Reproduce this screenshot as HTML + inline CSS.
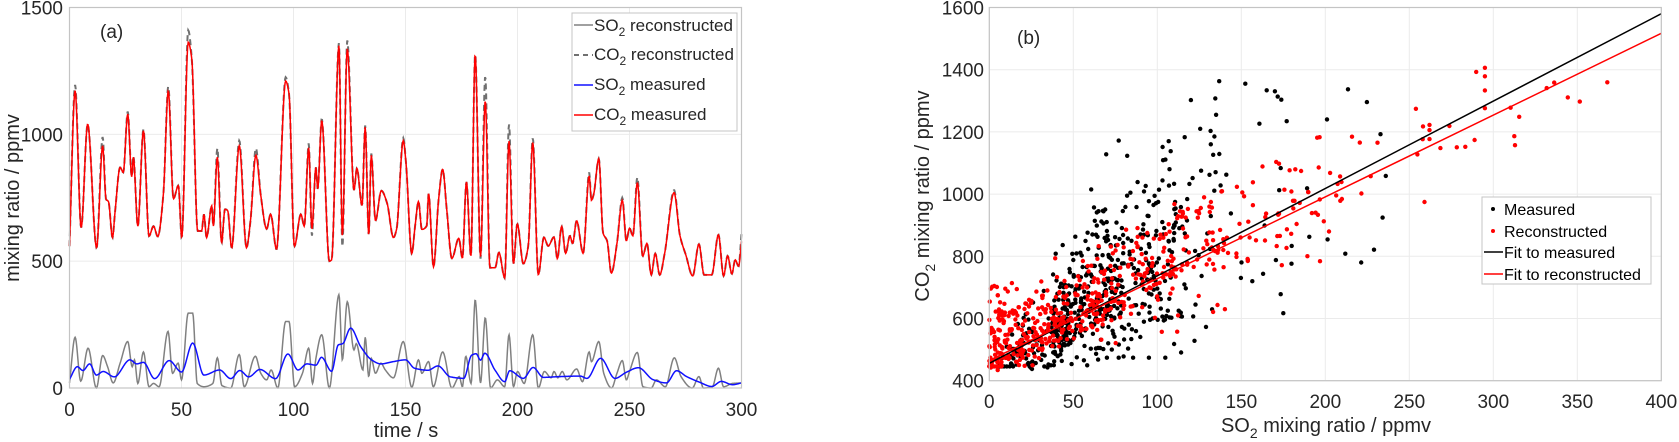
<!DOCTYPE html>
<html><head><meta charset="utf-8"><style>
html,body{margin:0;padding:0;background:#fff;}
svg{display:block;font-family:"Liberation Sans",Arial,sans-serif;}
</style></head><body>
<svg id="fig" width="1679" height="442" viewBox="0 0 1679 442" xmlns="http://www.w3.org/2000/svg">
<g id="pa"></g>
<g id="pb"></g>
</svg>
<script>
// ---------- Panel (a) data: keypoints (time s, value ppmv) ----------
const co2T = [0,2.5,5.2,8.1,12.1,14.8,16.3,17.4,19.2,20.3,22.6,24,26,27.8,28.5,30.5,33,35.5,37.5,39.4,41.9,44.1,46.4,48.6,50.1,53,54.6,57.2,59,60,61.2,63.5,64.2,66,67.9,69.4,70.6,72.4,75.8,79,80.8,83.2,85.4,88,89.8,92.4,96.5,98,100.4,103.3,104.8,106.8,108.2,110,110.8,112.6,116,117,120.3,121.8,124,127,128.3,130.6,132,133.6,134.7,136.6,139.2,141.8,144.6,146,149,150.2,152.8,154.3,155.8,157.3,159.5,160.3,162.5,164.8,166.6,168.4,170.7,173.8,175.4,177.2,179.2,181.1,183.5,185.6,187.7,190,191.7,194.3,196.2,198.2,199.9,202.6,204.8,206.8,209.3,211.8,213.7,216.3,217.8,219.7,221.5,223.4,224.6,226.4,229.3,232,233,234,236.3,238.2,240,241.9,244.4,246.8,248.6,250,251.5,253.5,255.9,257.8,259.7,261.5,263.5,265.7,269.9,272.5,275.2,278.2,281,283.3,286.7,289.7,292,293.8,295.7,297.2,298.7,300];
const co2Meas = [559,1172,632,1040,553,955,744,735,593,691,870,850,1080,832,910,638,1014,599,638,597,763,1172,746,798,593,1363,1297,619,619,685,593,718,638,910,573,705,700,553,955,553,660,918,759,627,685,547,1210,1160,559,685,638,948,627,870,784,1054,500,505,1350,600,1337,780,866,719,1028,602,918,660,778,728,593,625,975,890,530,640,735,625,640,767,478,745,862,705,511,590,512,813,520,1314,518,1133,474,474,534,434,974,490,647,490,560,968,447,594,560,595,510,637,531,600,570,659,531,836,740,763,904,611,580,453,570,740,580,630,600,810,520,570,446,530,446,531,770,602,523,442,567,446,446,604,442,521,450,505,480,578];
const co2Recon = [559,1195,632,1040,553,990,744,735,593,691,870,850,1090,832,915,638,1020,599,638,597,763,1190,746,798,593,1410,1297,619,619,685,593,718,638,945,573,705,700,553,975,553,660,945,759,627,685,547,1225,1160,559,685,638,965,600,870,784,1060,500,505,1360,555,1370,780,866,719,1035,602,925,660,778,728,593,625,985,890,530,640,735,625,640,767,478,745,862,705,511,590,512,813,520,1320,510,1230,474,474,534,434,1040,490,647,490,560,985,447,594,560,595,510,637,531,600,570,659,531,850,740,763,904,611,580,453,570,750,580,630,600,830,520,570,446,530,446,531,780,602,523,442,567,446,446,604,442,521,450,505,480,610];
const so2MeasT = [0,3.5,6,9,12,15,20,27,30,33,38,44.5,50,55,60,67,72,76,80,85,92,97.5,102,106,110,112.5,117,120,122,125.5,130,135,139,144.6,150,154,160,164.5,170,176,179.5,181.5,183.5,185.4,190,194.3,196.5,202.6,207,211.5,219,228,231,237.1,243.5,248.6,254,260.5,266.5,271,275.5,281.5,286.7,291,296,300];
const so2Meas = [34,84,69,95,51,65,44,111,95,101,37,108,63,177,51,71,37,69,44,73,37,134,71,95,90,121,66,170,175,236,163,110,95,104,111,78,70,87,44,38,129,135,110,137,70,25,68,38,81,42,45,47,38,117,38,62,80,33,20,68,45,22,6,26,13,20];
const so2ReconT = [0,2.5,5,8.3,12,14.8,17,19.5,22.6,26,28,29,30.5,33,35.5,37.5,40,44,46,48.5,50,53,55,57,60,64,66,68,72,75.8,78,83,85.4,88,90,93,96.5,98,100.5,104,106.8,108.5,110,112.6,116,120.3,121.8,124,127,128,131,132,133.6,134.7,136.6,139,141,144.6,149,152.8,155.8,157.3,160.3,162.4,166.6,170.7,174,175.4,176.9,179.3,181.1,183.5,185.6,188,191,194.3,196.2,198.2,200,203,206.8,209.3,212,215,216.3,218,220,222,226.4,229,232,233,236.3,238.5,242,244.4,246.8,248.6,250,253.5,256,259.7,262,266,270,273,278,281,283,287,289.7,292,296,300];
const so2Recon = [20,200,27,157,0,128,84,20,98,183,84,111,18,142,5,18,5,223,58,98,32,295,295,18,5,18,119,10,0,132,5,125,58,32,71,0,262,262,5,58,157,18,117,210,0,368,111,340,150,175,71,200,45,117,58,98,71,40,183,3,111,58,104,5,142,0,45,5,125,18,348,20,277,0,32,5,210,5,65,18,210,0,65,40,65,40,65,32,75,25,142,104,183,58,0,58,108,32,65,140,5,0,32,5,119,45,0,45,0,5,78,5,18,20];
const aXTicks = [0,50,100,150,200,250,300];
const aYTicks = [0,500,1000,1500];
// ---------- Panel (b) fit coefficients [intercept, slope] ----------
const fitMeasured = [456, 2.81];
const fitReconstructed = [465, 2.63];
const bXTicks = [0,50,100,150,200,250,300,350,400];
const bYTicks = [400,600,800,1000,1200,1400,1600];

const NS = "http://www.w3.org/2000/svg";
function mk(parent, tag, attrs, text){
  const e = document.createElementNS(NS, tag);
  for (const k in attrs) e.setAttribute(k, attrs[k]);
  if (text !== undefined) e.textContent = text;
  parent.appendChild(e); return e;
}
// monotone cubic (Fritsch-Carlson) interpolation: no overshoot
function tangents(T,V){
  const n=T.length, d=[], m=new Array(n);
  for(let i=0;i<n-1;i++) d.push((V[i+1]-V[i])/(T[i+1]-T[i]));
  m[0]=d[0]; m[n-1]=d[n-2];
  for(let i=1;i<n-1;i++){
    if(d[i-1]*d[i]<=0) m[i]=0;
    else { const w1=2*(T[i+1]-T[i])+(T[i]-T[i-1]), w2=(T[i+1]-T[i])+2*(T[i]-T[i-1]);
      m[i]=(w1+w2)/(w1/d[i-1]+w2/d[i]); }
  }
  return m;
}
const tanCache = new Map();
function evalCurve(T, V, t){
  if(!tanCache.has(V)) tanCache.set(V, tangents(T,V));
  const m = tanCache.get(V);
  let i = 0;
  while (i < T.length - 2 && t > T[i+1]) i++;
  const h = T[i+1]-T[i];
  const u = Math.max(0, Math.min(1, (t - T[i]) / h));
  const u2=u*u, u3=u2*u;
  return (2*u3-3*u2+1)*V[i] + (u3-2*u2+u)*h*m[i] + (-2*u3+3*u2)*V[i+1] + (u3-u2)*h*m[i+1];
}

// ---------- Panel (a) ----------
const A = {x0:69.5, x1:741.5, y0:388, y1:7.5};
const ax = t => A.x0 + (t/300)*(A.x1-A.x0);
const ay = v => A.y0 - (v/1500)*(A.y0-A.y1);
const pa = document.getElementById('pa');
mk(pa,'rect',{x:A.x0,y:A.y1,width:A.x1-A.x0,height:A.y0-A.y1,fill:'#fff'});
aXTicks.forEach(t=>{
  const g = mk(pa,'line',{x1:ax(t),x2:ax(t),y1:A.y1,y2:A.y0,stroke:'#ebebeb','stroke-width':1});
  
  
  const l = mk(pa,'text',{x:ax(t),y:416,'text-anchor':'middle','font-size':19,fill:'#262626'}, String(t));
  
  
});
aYTicks.forEach(v=>{
  const g = mk(pa,'line',{x1:A.x0,x2:A.x1,y1:ay(v),y2:ay(v),stroke:'#ebebeb','stroke-width':1});
  
  
  const l = mk(pa,'text',{x:63,y:ay(v)+7,'text-anchor':'end','font-size':19,fill:'#262626'}, String(v));
  
  
});
function curvePath(T,V){
  let d='';
  for(let t=0;t<=300.001;t+=0.25){ d += (d?'L':'M')+ax(t).toFixed(2)+','+ay(evalCurve(T,V,t)).toFixed(2); }
  return d;
}
const pRecSO2 = mk(pa,'path',{d:curvePath(so2ReconT,so2Recon),fill:'none',stroke:'#808080','stroke-width':1.5});


const pRecCO2 = mk(pa,'path',{d:curvePath(co2T,co2Recon),fill:'none',stroke:'#707070','stroke-width':2,'stroke-dasharray':'6,4'});


const pMeasSO2 = mk(pa,'path',{d:curvePath(so2MeasT,so2Meas),fill:'none',stroke:'#1010ff','stroke-width':1.5});


const pMeasCO2 = mk(pa,'path',{d:curvePath(co2T,co2Meas),fill:'none',stroke:'#ff0000','stroke-width':1.5});


mk(pa,'rect',{x:A.x0,y:A.y1,width:A.x1-A.x0,height:A.y0-A.y1,fill:'none',stroke:'#c4c4c4','stroke-width':1.2});
pa.insertAdjacentHTML('beforeend', `
<text x="100" y="38" font-size="19" fill="#262626">(a)</text>
<text x="406" y="437" text-anchor="middle" font-size="20" fill="#262626">time / s</text>
<text transform="translate(19,198) rotate(-90)" text-anchor="middle" font-size="20" fill="#262626">mixing ratio / ppmv</text>
<g>
<rect x="572" y="13" width="165" height="118" fill="#fff" stroke="#c4c4c4" stroke-width="1"/>
<g><line x1="574" x2="593" y1="25" y2="25" stroke="#808080" stroke-width="1.5"/><text x="594" y="31" font-size="17" fill="#262626">SO<tspan font-size="12" dy="5">2</tspan><tspan dy="-5"> reconstructed</tspan></text></g>
<g><line x1="574" x2="593" y1="55" y2="55" stroke="#707070" stroke-width="2" stroke-dasharray="5,4"/><text x="594" y="60" font-size="17" fill="#262626">CO<tspan font-size="12" dy="5">2</tspan><tspan dy="-5"> reconstructed</tspan></text></g>
<g><line x1="574" x2="593" y1="85" y2="85" stroke="#1010ff" stroke-width="1.5"/><text x="594" y="90" font-size="17" fill="#262626">SO<tspan font-size="12" dy="5">2</tspan><tspan dy="-5"> measured</tspan></text></g>
<g><line x1="574" x2="593" y1="115" y2="115" stroke="#ff0000" stroke-width="1.5"/><text x="594" y="120" font-size="17" fill="#262626">CO<tspan font-size="12" dy="5">2</tspan><tspan dy="-5"> measured</tspan></text></g>
</g>`);

// ---------- Panel (b) ----------
const B = {x0:989.3, x1:1661.3, y0:380.7, y1:7.5};
const bx = v => B.x0 + (v/400)*(B.x1-B.x0);
const by = v => B.y0 - ((v-400)/1200)*(B.y0-B.y1);
const pb = document.getElementById('pb');
bXTicks.forEach(v=>{
  const g = mk(pb,'line',{x1:bx(v),x2:bx(v),y1:B.y1,y2:B.y0,stroke:'#ebebeb','stroke-width':1});
  
  
  const l = mk(pb,'text',{x:bx(v),y:408,'text-anchor':'middle','font-size':19,fill:'#262626'}, String(v));
  
  
});
bYTicks.forEach(v=>{
  const g = mk(pb,'line',{x1:B.x0,x2:B.x1,y1:by(v),y2:by(v),stroke:'#ebebeb','stroke-width':1});
  
  
  const l = mk(pb,'text',{x:984,y:by(v)+7,'text-anchor':'end','font-size':19,fill:'#262626'}, String(v));
  
  
});
// scatter derived from the time series above
const gBlack = mk(pb,'g',{fill:'#000'});


const gRed = mk(pb,'g',{fill:'#ff0000'});


for(let t=0;t<=300.001;t+=0.5){
  const s1 = Math.max(0,evalCurve(so2MeasT,so2Meas,t)), c1 = evalCurve(co2T,co2Meas,t);
  const d1 = mk(gBlack,'circle',{cx:bx(s1).toFixed(1),cy:by(c1).toFixed(1),r:2.2});
  
  
}
for(let t=0.25;t<=300.001;t+=0.5){
  const s2 = Math.max(0,evalCurve(so2ReconT,so2Recon,t)), c2 = evalCurve(co2T,co2Recon,t);
  const d2 = mk(gRed,'circle',{cx:bx(s2).toFixed(1),cy:by(c2).toFixed(1),r:2.2});
  
  
}
const fm = mk(pb,'line',{x1:bx(0),y1:by(fitMeasured[0]),x2:bx(400),y2:by(fitMeasured[0]+400*fitMeasured[1]),stroke:'#000','stroke-width':1.5});


const fr = mk(pb,'line',{x1:bx(0),y1:by(fitReconstructed[0]),x2:bx(400),y2:by(fitReconstructed[0]+400*fitReconstructed[1]),stroke:'#ff0000','stroke-width':1.5});


mk(pb,'rect',{x:B.x0,y:B.y1,width:B.x1-B.x0,height:B.y0-B.y1,fill:'none',stroke:'#c4c4c4','stroke-width':1.2});
pb.insertAdjacentHTML('beforeend', `
<text x="1017" y="44" font-size="19" fill="#262626">(b)</text>
<text x="1326" y="432" text-anchor="middle" font-size="20" fill="#262626">SO<tspan font-size="14" dy="6">2</tspan><tspan dy="-6"> mixing ratio / ppmv</tspan></text>
<text transform="translate(929,196) rotate(-90)" text-anchor="middle" font-size="20" fill="#262626">CO<tspan font-size="14" dy="6">2</tspan><tspan dy="-6"> mixing ratio / ppmv</tspan></text>
<g>
<rect x="1482" y="197" width="169" height="87" fill="#fff" stroke="#c4c4c4" stroke-width="1"/>
<g><circle cx="1493" cy="209" r="2" fill="#000"/><text x="1504" y="215" font-size="16" fill="#000">Measured</text></g>
<g><circle cx="1493" cy="231" r="2" fill="#ff0000"/><text x="1504" y="237" font-size="16" fill="#000">Reconstructed</text></g>
<g><line x1="1484" x2="1503" y1="252" y2="252" stroke="#000" stroke-width="1.5"/><text x="1504" y="258" font-size="16" fill="#000">Fit to measured</text></g>
<g><line x1="1484" x2="1503" y1="274" y2="274" stroke="#ff0000" stroke-width="1.5"/><text x="1504" y="280" font-size="16" fill="#000">Fit to reconstructed</text></g>
</g>`);
</script>
</body></html>
